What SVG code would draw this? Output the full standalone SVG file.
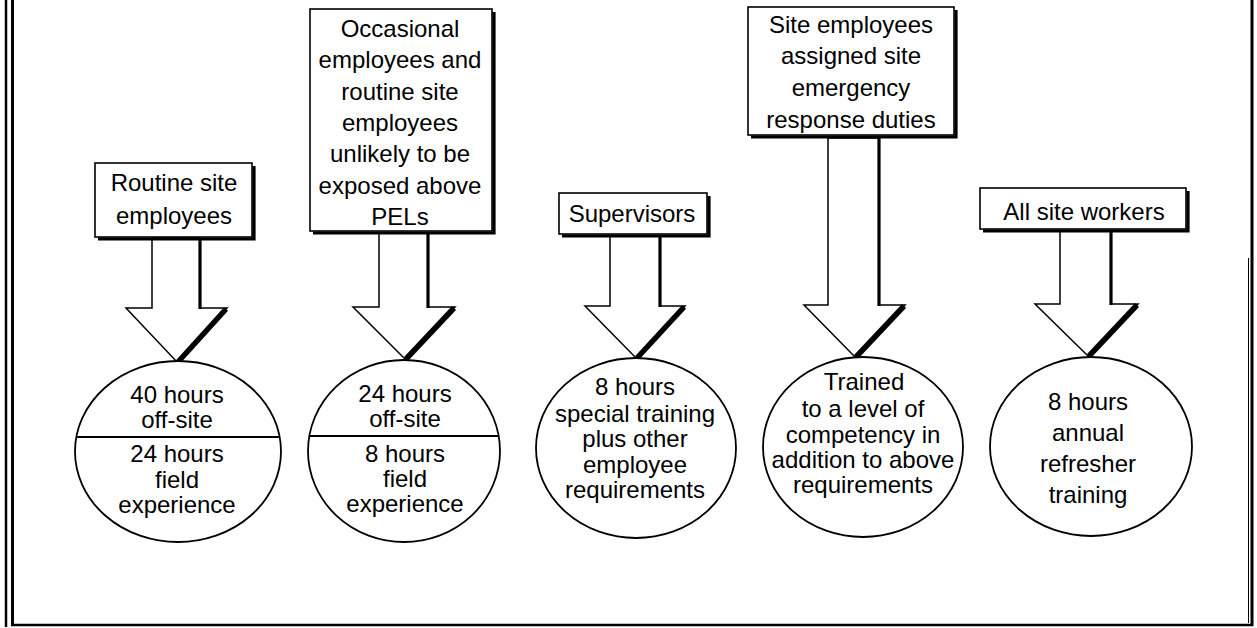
<svg xmlns="http://www.w3.org/2000/svg" width="1257" height="628" viewBox="0 0 1257 628">
<style>
.t{font-family:"Liberation Sans",Arial,Helvetica,sans-serif;font-size:24px;fill:#000;text-anchor:middle}
.box{fill:#fff;stroke:#000;stroke-width:1.6}
.sh{fill:none;stroke:#000;stroke-width:3.2}
.ell{fill:#fff;stroke:#000;stroke-width:1.8}
.div{stroke:#000;stroke-width:1.8}
.arr{fill:#fff;stroke:#000;stroke-width:1.5;stroke-linejoin:miter}
.shaftR{stroke:#000;stroke-width:3.2}
.headR{stroke:#000;stroke-width:5.5;stroke-linecap:butt}
.frame{stroke:#000;fill:none}
</style>
<rect x="0" y="0" width="1257" height="628" fill="#fff"/>
<g id="frame">
<line class="frame" x1="6" y1="0" x2="6" y2="627" stroke-width="2.5"/>
<line class="frame" x1="12.5" y1="0" x2="12.5" y2="626" stroke-width="3"/>
<line class="frame" x1="11" y1="625" x2="1253" y2="625" stroke-width="2.5"/>
<line class="frame" x1="1252" y1="0" x2="1252" y2="626" stroke-width="3"/>
<line class="frame" x1="1248.5" y1="258" x2="1248.5" y2="623" stroke-width="1"/>
</g>
<g id="connectors">
<g id="arrow1">
<polygon class="arr" points="152,238 152,308 126,308 177,362 227,308 200,308 200,238"/>
<line class="shaftR" x1="200" y1="238" x2="200" y2="309"/>
<line class="headR" x1="226" y1="309" x2="178" y2="362"/>
</g>
<g id="arrow2">
<polygon class="arr" points="379,233 379,307 353,307 405,359 455,307 428,307 428,233"/>
<line class="shaftR" x1="428" y1="233" x2="428" y2="308"/>
<line class="headR" x1="454" y1="308" x2="406" y2="359"/>
</g>
<g id="arrow3">
<polygon class="arr" points="610,236 610,306 585,306 636,358 685,306 660,306 660,236"/>
<line class="shaftR" x1="660" y1="236" x2="660" y2="307"/>
<line class="headR" x1="684" y1="307" x2="637" y2="358"/>
</g>
<g id="arrow4">
<polygon class="arr" points="828,138 828,305 804,305 855,357 905,305 879,305 879,138"/>
<line class="shaftR" x1="879" y1="138" x2="879" y2="306"/>
<line class="headR" x1="904" y1="306" x2="856" y2="357"/>
</g>
<g id="arrow5">
<polygon class="arr" points="1060,231 1060,304 1035,304 1088,356 1138,304 1111,304 1111,231"/>
<line class="shaftR" x1="1111" y1="231" x2="1111" y2="305"/>
<line class="headR" x1="1137" y1="305" x2="1089" y2="356"/>
</g>
</g>
<g id="box1">
<rect class="box" x="95" y="163" width="157" height="74"/>
<polyline class="sh" points="254,166 254,239 98,239"/>
<text class="t" x="174" y="191">Routine site</text>
<text class="t" x="174" y="224">employees</text>
</g>
<g id="box2">
<rect class="box" x="310" y="9" width="182" height="222"/>
<polyline class="sh" points="494,12 494,233 313,233"/>
<text class="t" x="400" y="37">Occasional</text>
<text class="t" x="400" y="68">employees and</text>
<text class="t" x="400" y="100">routine site</text>
<text class="t" x="400" y="131">employees</text>
<text class="t" x="400" y="162">unlikely to be</text>
<text class="t" x="400" y="194">exposed above</text>
<text class="t" x="400" y="225">PELs</text>
</g>
<g id="box3">
<rect class="box" x="559" y="193" width="148" height="41"/>
<polyline class="sh" points="709,196 709,236 562,236"/>
<text class="t" x="632" y="222">Supervisors</text>
</g>
<g id="box4">
<rect class="box" x="748" y="7" width="206" height="128"/>
<polyline class="sh" points="956,10 956,137 751,137"/>
<text class="t" x="851" y="33">Site employees</text>
<text class="t" x="851" y="64">assigned site</text>
<text class="t" x="851" y="96">emergency</text>
<text class="t" x="851" y="128">response duties</text>
</g>
<g id="box5">
<rect class="box" x="980" y="188" width="206" height="41"/>
<polyline class="sh" points="1188,191 1188,231 983,231"/>
<text class="t" x="1084" y="220">All site workers</text>
</g>
<g id="circle1">
<ellipse class="ell" cx="178" cy="451.5" rx="103" ry="90.5"/>
<line class="div" x1="76" y1="437" x2="280" y2="437"/>
<text class="t" x="177" y="403">40 hours</text>
<text class="t" x="177" y="428">off-site</text>
<text class="t" x="177" y="462">24 hours</text>
<text class="t" x="177" y="488">field</text>
<text class="t" x="177" y="513">experience</text>
</g>
<g id="circle2">
<ellipse class="ell" cx="404" cy="451" rx="96" ry="91"/>
<line class="div" x1="309" y1="436" x2="499" y2="436"/>
<text class="t" x="405" y="402">24 hours</text>
<text class="t" x="405" y="427">off-site</text>
<text class="t" x="405" y="462">8 hours</text>
<text class="t" x="405" y="487">field</text>
<text class="t" x="405" y="512">experience</text>
</g>
<g id="circle3">
<ellipse class="ell" cx="636" cy="448" rx="100" ry="90"/>
<text class="t" x="635" y="395">8 hours</text>
<text class="t" x="635" y="422">special training</text>
<text class="t" x="635" y="447">plus other</text>
<text class="t" x="635" y="473">employee</text>
<text class="t" x="635" y="498">requirements</text>
</g>
<g id="circle4">
<ellipse class="ell" cx="863" cy="447" rx="100" ry="90"/>
<text class="t" x="864" y="390">Trained</text>
<text class="t" x="863" y="417">to a level of</text>
<text class="t" x="863" y="443">competency in</text>
<text class="t" x="863" y="468">addition to above</text>
<text class="t" x="863" y="493">requirements</text>
</g>
<g id="circle5">
<ellipse class="ell" cx="1091" cy="446.5" rx="101" ry="89.5"/>
<text class="t" x="1088" y="410">8 hours</text>
<text class="t" x="1088" y="441">annual</text>
<text class="t" x="1088" y="472">refresher</text>
<text class="t" x="1088" y="503">training</text>
</g>
</svg>
